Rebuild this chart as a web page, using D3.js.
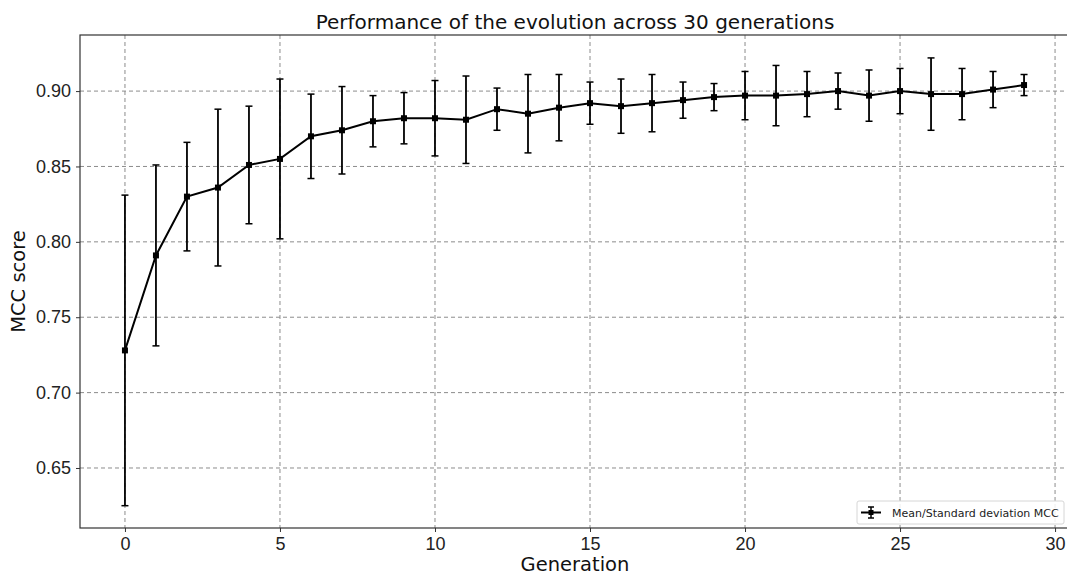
<!DOCTYPE html>
<html>
<head>
<meta charset="utf-8">
<script src="https://cdn.jsdelivr.net/npm/d3@7"></script>
<style>
  body { margin: 0; background: #fff; }
  svg { font-family: "DejaVu Sans", sans-serif; display: block; }
  .grid line { stroke: #8c8c8c; stroke-dasharray: 4,3; stroke-width: 1; }
  .axis path { stroke: none; }
  .axis line { stroke: #333; }
  .axis text { fill: #222; font-size: 18px; }
</style>
</head>
<body>
<div id="chart"></div>
<script>
// generations 0..29
const generations = d3.range(0, 30);
// mean MCC per generation
const meanMCC = [0.728, 0.791, 0.830, 0.836, 0.851, 0.855, 0.870, 0.874, 0.880, 0.882,
                 0.882, 0.881, 0.888, 0.885, 0.889, 0.892, 0.890, 0.892, 0.894, 0.896,
                 0.897, 0.897, 0.898, 0.900, 0.897, 0.900, 0.898, 0.898, 0.901, 0.904];
// standard deviation per generation
const stdMCC = [0.103, 0.060, 0.036, 0.052, 0.039, 0.053, 0.028, 0.029, 0.017, 0.017,
                0.025, 0.029, 0.014, 0.026, 0.022, 0.014, 0.018, 0.019, 0.012, 0.009,
                0.016, 0.020, 0.015, 0.012, 0.017, 0.015, 0.024, 0.017, 0.012, 0.007];
const xTicks = [0, 5, 10, 15, 20, 25, 30];
const yTicks = [0.65, 0.70, 0.75, 0.80, 0.85, 0.90];

const chartTitle = "Performance of the evolution across 30 generations";
const xLabel = "Generation";
const yLabel = "MCC score";
const legendLabel = "Mean/Standard deviation MCC";

const W = 1067, H = 576;
const margin = {top: 35, right: -2, bottom: 48, left: 80};
const width = W - margin.left - margin.right;
const height = H - margin.top - margin.bottom;

const data = generations.map((g, i) => ({g: g, m: meanMCC[i], s: stdMCC[i]}));

const svg = d3.select("#chart").append("svg")
    .attr("width", W)
    .attr("height", H);

const g = svg.append("g")
    .attr("transform", "translate(" + margin.left + "," + margin.top + ")");

const x = d3.scaleLinear()
    .domain([-1.45, 30.45])
    .range([0, width]);

const y = d3.scaleLinear()
    .domain([0.6102, 0.9372])
    .range([height, 0]);

// grid
const grid = g.append("g").attr("class", "grid");
grid.selectAll("line.vx")
    .data(xTicks)
    .enter().append("line")
    .attr("class", "vx")
    .attr("x1", d => x(d)).attr("x2", d => x(d))
    .attr("y1", 0).attr("y2", height);

grid.selectAll("line.hy")
    .data(yTicks)
    .enter().append("line")
    .attr("class", "hy")
    .attr("x1", 0).attr("x2", width)
    .attr("y1", d => y(d)).attr("y2", d => y(d));

// axes
g.append("g")
    .attr("class", "axis")
    .attr("transform", "translate(0," + height + ")")
    .call(d3.axisBottom(x).tickValues(xTicks).tickFormat(d3.format("d"))
        .tickSizeInner(4).tickSizeOuter(0).tickPadding(5));

g.append("g")
    .attr("class", "axis")
    .call(d3.axisLeft(y).tickValues(yTicks).tickFormat(d3.format(".2f"))
        .tickSizeInner(4).tickSizeOuter(0).tickPadding(5));

// frame
g.append("rect")
    .attr("width", width)
    .attr("height", height)
    .attr("fill", "none")
    .attr("stroke", "#333")
    .attr("stroke-width", 1.2);

// error bars
const eb = g.append("g").attr("class", "errorbars");
eb.selectAll("line.v")
    .data(data)
    .enter().append("line")
    .attr("x1", d => x(d.g)).attr("x2", d => x(d.g))
    .attr("y1", d => y(d.m - d.s)).attr("y2", d => y(d.m + d.s))
    .attr("stroke", "#000").attr("stroke-width", 1.8);

["top", "bot"].forEach(k => {
  eb.selectAll("line.cap-" + k)
      .data(data)
      .enter().append("line")
      .attr("class", "cap-" + k)
      .attr("x1", d => x(d.g) - 3.5).attr("x2", d => x(d.g) + 3.5)
      .attr("y1", d => y(k === "top" ? d.m + d.s : d.m - d.s))
      .attr("y2", d => y(k === "top" ? d.m + d.s : d.m - d.s))
      .attr("stroke", "#000").attr("stroke-width", 1.5);
});

// mean line
const line = d3.line()
    .x(d => x(d.g))
    .y(d => y(d.m));

g.append("path")
    .datum(data)
    .attr("fill", "none")
    .attr("stroke", "#000")
    .attr("stroke-width", 2)
    .attr("d", line);

g.selectAll("rect.pt")
    .data(data)
    .enter().append("rect")
    .attr("class", "pt")
    .attr("x", d => x(d.g) - 3)
    .attr("y", d => y(d.m) - 3)
    .attr("width", 6).attr("height", 6)
    .attr("fill", "#000");

// title + labels
svg.append("text")
    .attr("x", 575).attr("y", 29)
    .attr("text-anchor", "middle")
    .attr("font-size", 20)
    .attr("fill", "#111")
    .text(chartTitle);

svg.append("text")
    .attr("x", 575).attr("y", 571)
    .attr("text-anchor", "middle")
    .attr("font-size", 19.5)
    .attr("fill", "#111")
    .text(xLabel);

svg.append("text")
    .attr("transform", "translate(25," + (margin.top + height / 2) + ") rotate(-90)")
    .attr("text-anchor", "middle")
    .attr("font-size", 19.5)
    .attr("fill", "#111")
    .text(yLabel);

// legend
const lg = svg.append("g").attr("transform", "translate(857,501)");
lg.append("rect")
    .attr("width", 207).attr("height", 23)
    .attr("rx", 2)
    .attr("fill", "#fff").attr("fill-opacity", 0.85)
    .attr("stroke", "#d6d6d6");
lg.append("line")
    .attr("x1", 4).attr("x2", 24).attr("y1", 11.5).attr("y2", 11.5)
    .attr("stroke", "#000").attr("stroke-width", 2);
lg.append("line")
    .attr("x1", 14).attr("x2", 14).attr("y1", 6).attr("y2", 17)
    .attr("stroke", "#000").attr("stroke-width", 1.5);
lg.append("line")
    .attr("x1", 11).attr("x2", 17).attr("y1", 6).attr("y2", 6)
    .attr("stroke", "#000").attr("stroke-width", 1.5);
lg.append("line")
    .attr("x1", 11).attr("x2", 17).attr("y1", 17).attr("y2", 17)
    .attr("stroke", "#000").attr("stroke-width", 1.5);
lg.append("rect")
    .attr("x", 11.5).attr("y", 9).attr("width", 5).attr("height", 5)
    .attr("fill", "#000");
lg.append("text")
    .attr("x", 35).attr("y", 16)
    .attr("font-size", 11)
    .attr("fill", "#222")
    .text(legendLabel);
</script>
</body>
</html>
